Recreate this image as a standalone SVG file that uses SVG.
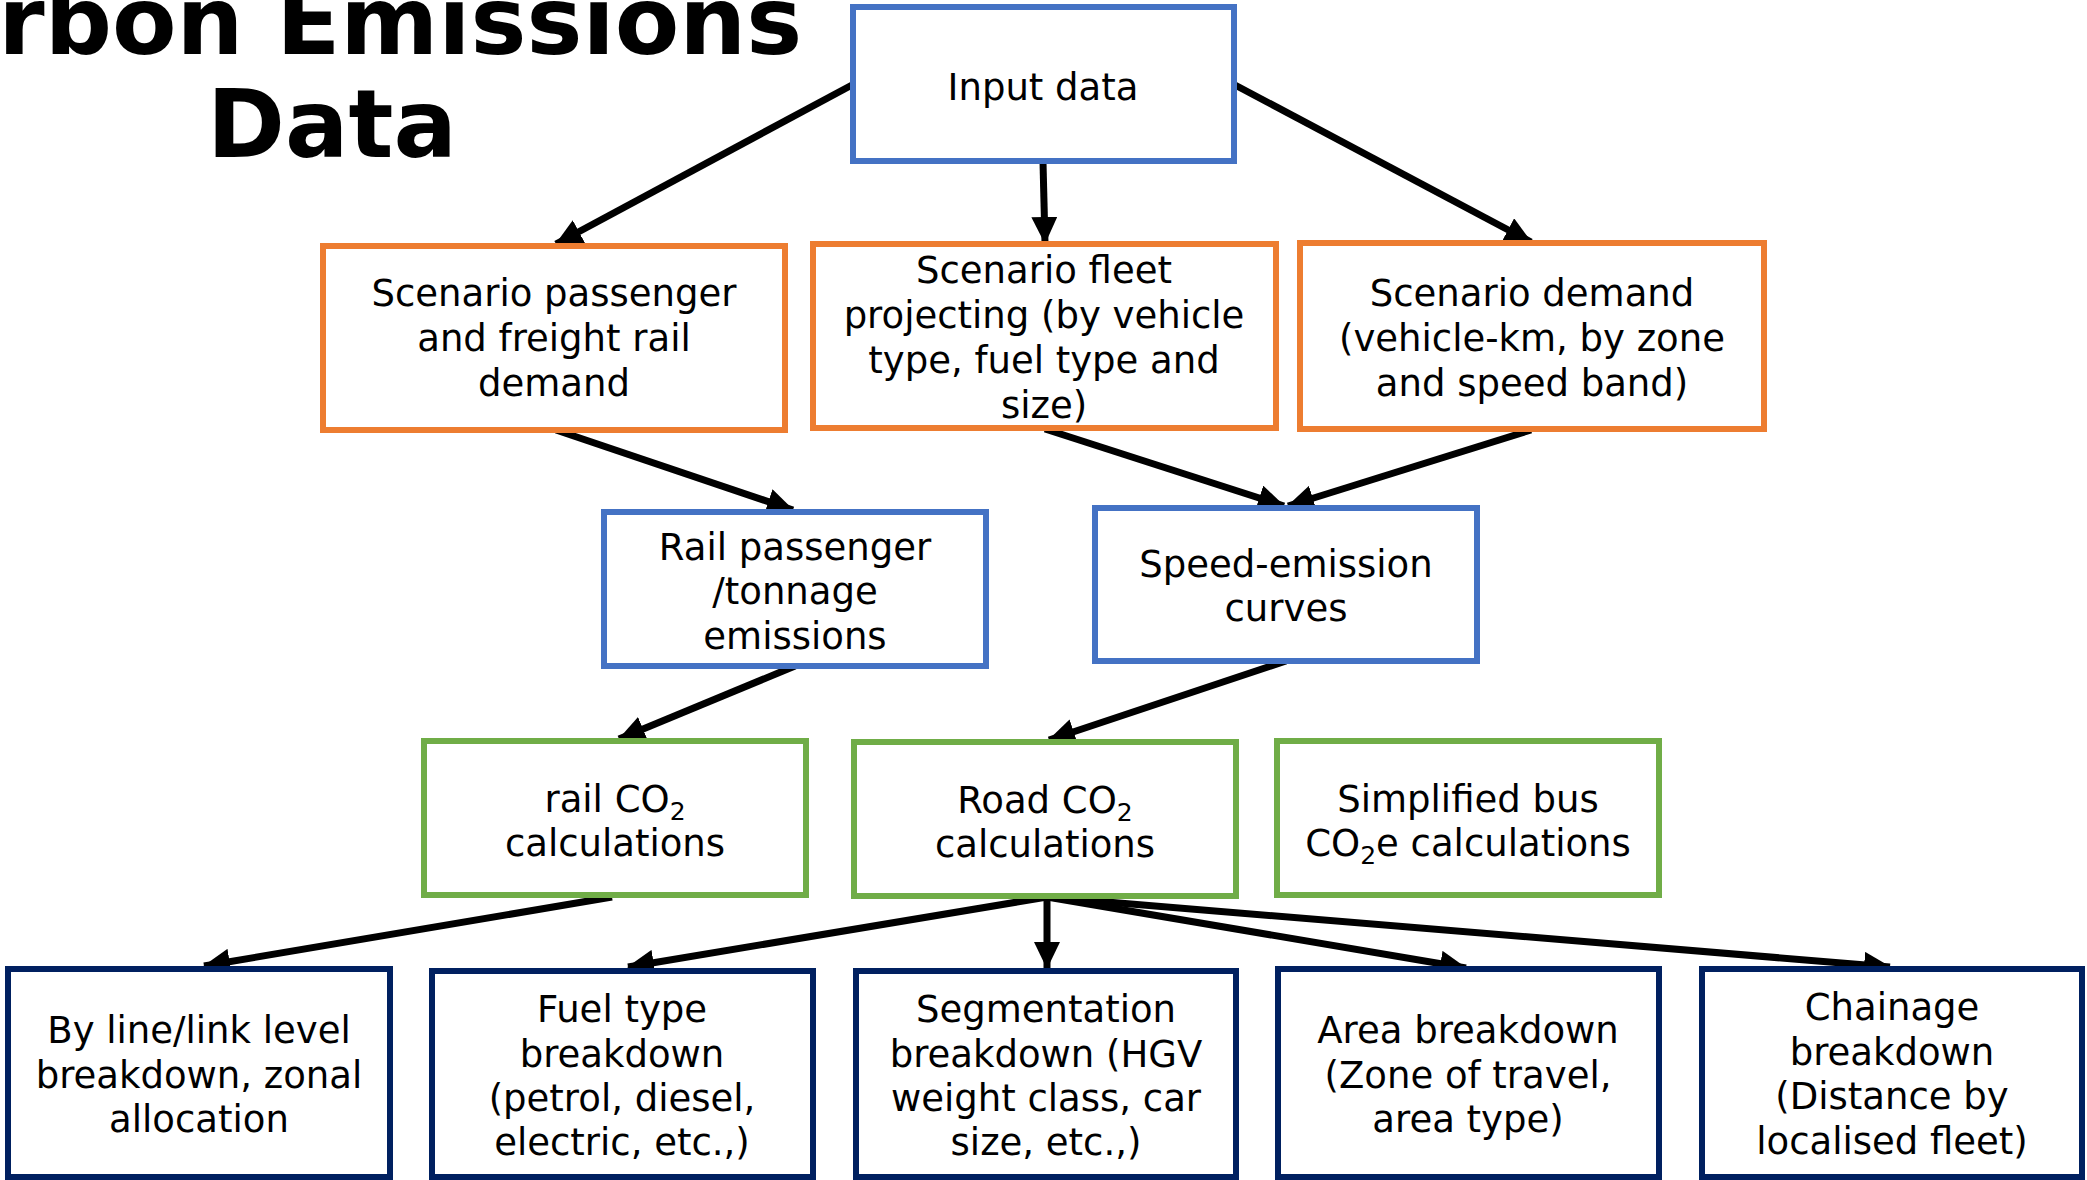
<svg xmlns="http://www.w3.org/2000/svg" width="2087" height="1180" viewBox="0 0 2087 1180">
<style>
  .box { fill: #ffffff; stroke-width: 6; }
  .blue { stroke: #4472C4; }
  .orange { stroke: #ED7D31; }
  .green { stroke: #70AD47; }
  .navy { stroke: #002060; }
  .t { font-family: "DejaVu Sans", Verdana, sans-serif; font-size: 37px; fill: #000000; text-anchor: middle; }
  .title { font-family: "DejaVu Sans", Verdana, sans-serif; font-weight: bold; font-size: 94px; fill: #000000; text-anchor: middle; }
  .conn { stroke: #000000; stroke-width: 7; fill: none; marker-end: url(#arrow); }
</style>
<defs>
  <marker id="arrow" markerUnits="userSpaceOnUse" markerWidth="28" markerHeight="26" refX="26" refY="13" orient="auto">
    <path d="M0,0 L27,13 L0,26 Z" fill="#000000"/>
  </marker>
</defs>
<rect width="2087" height="1180" fill="#ffffff"/>

<g id="title">
  <text class="title" x="334" y="54">Carbon Emissions</text>
  <text class="title" x="332" y="157">Data</text>
</g>

<g id="connectors">
  <line class="conn" x1="852" y1="85" x2="556" y2="244"/>
  <line class="conn" x1="1043" y1="162" x2="1045" y2="243"/>
  <line class="conn" x1="1235" y1="85" x2="1531" y2="242"/>
  <line class="conn" x1="556" y1="430" x2="793" y2="510"/>
  <line class="conn" x1="1045" y1="429" x2="1284" y2="506"/>
  <line class="conn" x1="1531" y1="430" x2="1288" y2="506"/>
  <line class="conn" x1="795" y1="666" x2="619" y2="739"/>
  <line class="conn" x1="1286" y1="661" x2="1049" y2="740"/>
  <line class="conn" x1="612" y1="897" x2="204" y2="966"/>
  <line class="conn" x1="1047" y1="897" x2="628" y2="967"/>
  <line class="conn" x1="1047" y1="897" x2="1047" y2="968"/>
  <line class="conn" x1="1047" y1="897" x2="1466" y2="968"/>
  <line class="conn" x1="1047" y1="897" x2="1890" y2="967"/>
</g>

<g id="input-data">
  <rect class="box blue" x="853" y="7" width="381" height="154"/>
  <text class="t" x="1043" y="100">Input data</text>
</g>

<g id="scenario-rail">
  <rect class="box orange" x="323" y="246" width="462" height="184"/>
  <text class="t" x="554" y="306">Scenario passenger</text>
  <text class="t" x="554" y="351">and freight rail</text>
  <text class="t" x="554" y="396">demand</text>
</g>

<g id="scenario-fleet">
  <rect class="box orange" x="813" y="244" width="463" height="184"/>
  <text class="t" x="1044" y="283">Scenario fleet</text>
  <text class="t" x="1044" y="328">projecting (by vehicle</text>
  <text class="t" x="1044" y="373">type, fuel type and</text>
  <text class="t" x="1044" y="418">size)</text>
</g>

<g id="scenario-demand">
  <rect class="box orange" x="1300" y="243" width="464" height="186"/>
  <text class="t" x="1532" y="306">Scenario demand</text>
  <text class="t" x="1532" y="351">(vehicle-km, by zone</text>
  <text class="t" x="1532" y="396">and speed band)</text>
</g>

<g id="rail-emissions">
  <rect class="box blue" x="604" y="512" width="382" height="154"/>
  <text class="t" x="795" y="560">Rail passenger</text>
  <text class="t" x="795" y="604">/tonnage</text>
  <text class="t" x="795" y="649">emissions</text>
</g>

<g id="speed-emission">
  <rect class="box blue" x="1095" y="508" width="382" height="153"/>
  <text class="t" x="1286" y="577">Speed-emission</text>
  <text class="t" x="1286" y="621">curves</text>
</g>

<g id="rail-co2">
  <rect class="box green" x="424" y="741" width="382" height="154"/>
  <text class="t" x="615" y="812">rail CO<tspan font-size="25" dy="8">2</tspan></text>
  <text class="t" x="615" y="856">calculations</text>
</g>

<g id="road-co2">
  <rect class="box green" x="854" y="742" width="382" height="154"/>
  <text class="t" x="1045" y="813">Road CO<tspan font-size="25" dy="8">2</tspan></text>
  <text class="t" x="1045" y="857">calculations</text>
</g>

<g id="bus-co2e">
  <rect class="box green" x="1277" y="741" width="382" height="154"/>
  <text class="t" x="1468" y="812">Simplified bus</text>
  <text class="t" x="1468" y="856">CO<tspan font-size="25" dy="8">2</tspan><tspan dy="-8">e calculations</tspan></text>
</g>

<g id="line-link">
  <rect class="box navy" x="8" y="969" width="382" height="208"/>
  <text class="t" x="199" y="1043">By line/link level</text>
  <text class="t" x="199" y="1088">breakdown, zonal</text>
  <text class="t" x="199" y="1132">allocation</text>
</g>

<g id="fuel-type">
  <rect class="box navy" x="432" y="971" width="381" height="206"/>
  <text class="t" x="622" y="1022">Fuel type</text>
  <text class="t" x="622" y="1067">breakdown</text>
  <text class="t" x="622" y="1111">(petrol, diesel,</text>
  <text class="t" x="622" y="1155">electric, etc.,)</text>
</g>

<g id="segmentation">
  <rect class="box navy" x="856" y="971" width="380" height="206"/>
  <text class="t" x="1046" y="1022">Segmentation</text>
  <text class="t" x="1046" y="1067">breakdown (HGV</text>
  <text class="t" x="1046" y="1111">weight class, car</text>
  <text class="t" x="1046" y="1155">size, etc.,)</text>
</g>

<g id="area">
  <rect class="box navy" x="1278" y="969" width="381" height="208"/>
  <text class="t" x="1468" y="1043">Area breakdown</text>
  <text class="t" x="1468" y="1088">(Zone of travel,</text>
  <text class="t" x="1468" y="1132">area type)</text>
</g>

<g id="chainage">
  <rect class="box navy" x="1702" y="969" width="380" height="208"/>
  <text class="t" x="1892" y="1020">Chainage</text>
  <text class="t" x="1892" y="1065">breakdown</text>
  <text class="t" x="1892" y="1109">(Distance by</text>
  <text class="t" x="1892" y="1154">localised fleet)</text>
</g>
</svg>
